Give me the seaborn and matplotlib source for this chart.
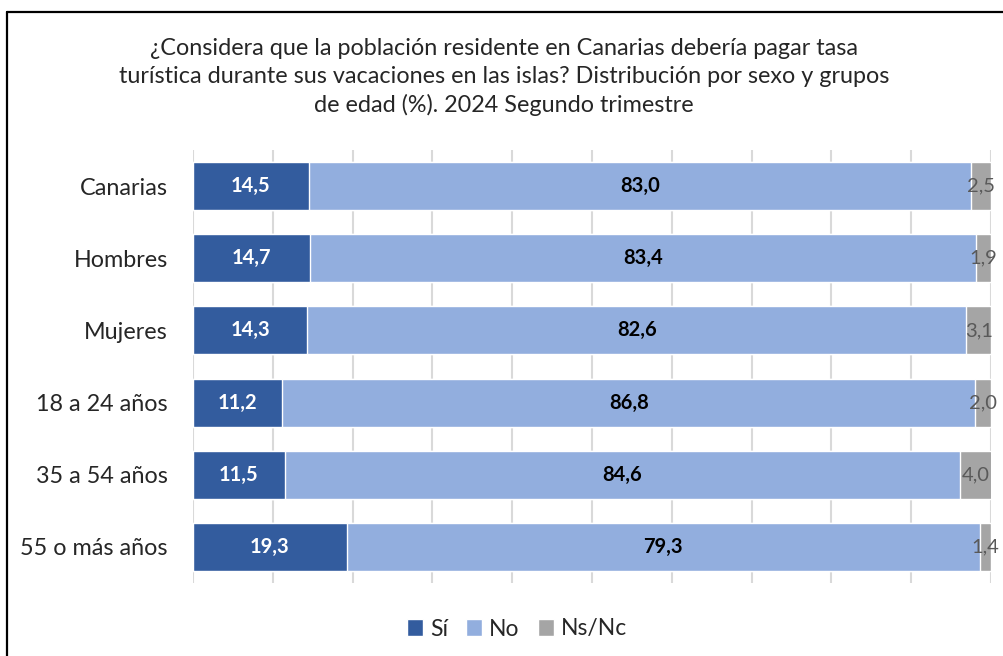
import numpy as np
import pandas as pd
import seaborn as sns
import matplotlib.pyplot as plt
from matplotlib.patches import Patch
from matplotlib.lines import Line2D

grupos = ["Canarias", "Hombres", "Mujeres", "18 a 24 años", "35 a 54 años", "55 o más años"]
si = [14.5, 14.7, 14.3, 11.2, 11.5, 19.3]
no = [83.0, 83.4, 82.6, 86.8, 84.6, 79.3]
nsnc = [2.5, 1.9, 3.1, 2.0, 4.0, 1.4]

series = ["Sí", "No", "Ns/Nc"]
colores = {"Sí": "#335C9E", "No": "#92AEDE", "Ns/Nc": "#A5A5A5"}
label_style = {"Sí": ("white", "bold"), "No": ("black", "bold"), "Ns/Nc": ("#595959", "normal")}

titulo = ("¿Considera que la población residente en Canarias debería pagar tasa\n"
          "turística durante sus vacaciones en las islas? Distribución por sexo y grupos\n"
          "de edad (%). 2024 Segundo trimestre")

df = pd.DataFrame({"grupo": grupos, "Sí": si, "No": no, "Ns/Nc": nsnc})
# cumulative right edges for stacking
df["fin_Sí"] = df["Sí"]
df["fin_No"] = df["Sí"] + df["No"]
df["fin_Ns/Nc"] = df["fin_No"] + df["Ns/Nc"]

sns.set_style("white")
plt.rcParams["font.family"] = ["Lato", "DejaVu Sans"]

fig = plt.figure(figsize=(10.04, 6.56), dpi=100)
ax = fig.add_axes([193 / 1004, 1 - 583 / 656, (991 - 193) / 1004, (583 - 150) / 656])

# draw the longest stack first so shorter ones sit on top
for s in reversed(series):
    sns.barplot(data=df, x="fin_" + s, y="grupo", color=colores[s], width=0.667,
                saturation=1, orient="h", ax=ax, zorder=2)

for i, row in df.iterrows():
    start = 0
    for s in series:
        v = row[s]
        c, w = label_style[s]
        ax.text(start + v / 2, i, f"{v:.1f}".replace(".", ","), ha="center", va="center",
                color=c, fontweight=w, fontsize=14.5, zorder=3)
        start += v

ax.set_xlim(0, 100)
ax.set_ylim(5.5, -0.5)
ax.set_xticks(np.arange(0, 101, 10))
ax.set_xticklabels([])
ax.xaxis.grid(True, color="#D9D9D9", linewidth=1.5, zorder=0)
ax.set_axisbelow(True)
ax.tick_params(axis="x", length=0)
ax.tick_params(axis="y", length=0, pad=18, labelsize=16.8, labelcolor="#262626")
ax.set_xlabel("")
ax.set_ylabel("")
for sp in ax.spines.values():
    sp.set_visible(False)

fig.text(0.502, 1 - 77 / 656, titulo, ha="center", va="center", fontsize=16.8,
         color="#262626", linespacing=1.38)

handles = [Patch(facecolor=colores[s], label=s) for s in series]
fig.legend(handles=handles, loc="center", bbox_to_anchor=(0.515, 1 - 629 / 656), ncol=3,
           frameon=False, fontsize=16.5, handlelength=0.7, handleheight=0.7,
           handletextpad=0.3, columnspacing=0.8, labelcolor="#262626")

# chart frame (only top and left edges are visible in the crop)
x0, y0 = 7.5 / 1004, 1 - 11.5 / 656
fig.add_artist(Line2D([x0, 1.05], [y0, y0], transform=fig.transFigure, color="black", lw=1.6))
fig.add_artist(Line2D([x0, x0], [y0, -0.05], transform=fig.transFigure, color="black", lw=1.6))

fig.savefig("out.png", dpi=100)
